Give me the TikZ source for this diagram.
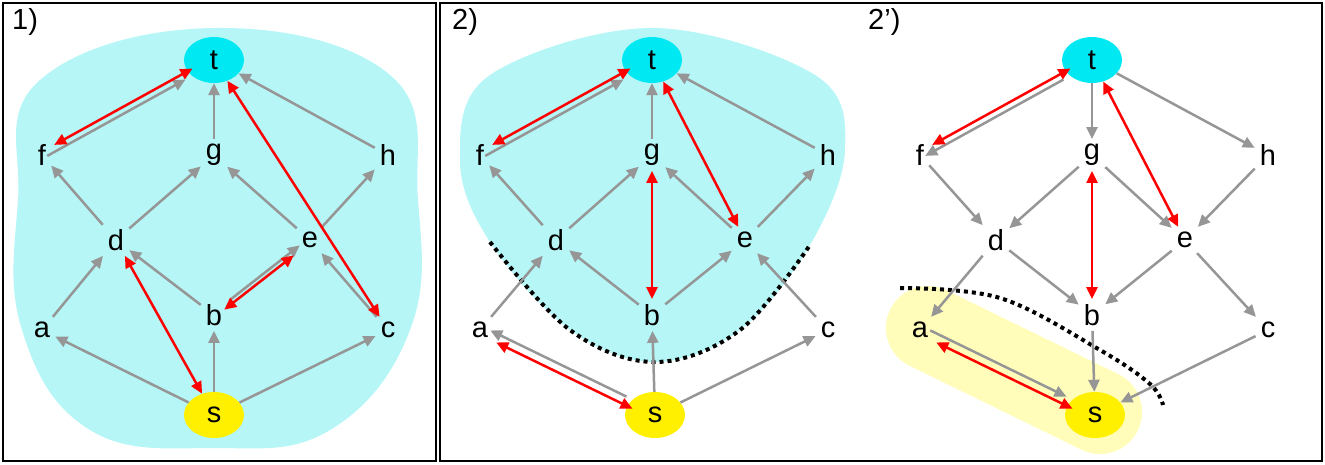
\documentclass[tikz,border=0pt]{standalone}
\usepackage{fontspec}
\setmainfont{Liberation Sans}
\usetikzlibrary{arrows.meta,shapes.geometric}
\definecolor{blob}{RGB}{182,246,246}
\definecolor{tcol}{RGB}{0,232,242}
\definecolor{scol}{RGB}{255,240,0}
\definecolor{ylight}{RGB}{255,253,185}
\definecolor{garr}{RGB}{150,150,150}
\begin{document}
\begin{tikzpicture}[x=1pt,y=-1pt,
 lab/.style={font=\fontsize{29}{31}\selectfont, inner sep=5pt},
 tn/.style={ellipse, fill=tcol, minimum width=60pt, minimum height=46pt, font=\fontsize{29}{31}\selectfont, inner sep=0pt},
 sn/.style={ellipse, fill=scol, minimum width=60pt, minimum height=46pt, font=\fontsize{29}{31}\selectfont, inner sep=0pt},
 ga/.style={draw=garr, line width=2.5pt, -{Triangle[length=12pt,width=11pt]}},
 ra/.style={draw=red, line width=2.5pt, {Triangle[length=12pt,width=11pt]}-{Triangle[length=12pt,width=11pt]}},
 dl/.style={line width=4pt, dash pattern=on 4pt off 4pt}]
\useasboundingbox (0,0) rectangle (1325,464);
\draw[line width=1.5pt] (3,3) rectangle (436,461);
\draw[line width=1.5pt] (440,3) rectangle (1322,461);
\node[lab,anchor=north west,inner sep=0pt] (l1) at (12,8) {1)};
\node[lab,anchor=north west,inner sep=0pt] (l2) at (452,8) {2)};
\node[lab,anchor=north west,inner sep=0pt] (l3) at (868,8) {2')};
% blobs
\fill[blob] plot[smooth cycle, tension=0.7] coordinates {(214,28) (390,75) (418,200) (410,330) (330,430) (214,448) (90,430) (22,330) (18,200) (40,80)};
\fill[blob] plot[smooth cycle, tension=0.6] coordinates {(652,28) (815,75) (845,150) (810,245) (740,330) (655,362) (570,330) (490,242) (460,160) (490,75)};
\draw[dl] plot[smooth, tension=0.6] coordinates {(490,242) (570,330) (655,362) (740,330) (810,245)};
\draw[ylight, line width=84pt, line cap=round] (928,328) -- (1100,412);
\draw[dl] plot[smooth, tension=0.6] coordinates {(900,288) (1000,298) (1100,350) (1150,384) (1163,405)};
% panel 1
\node[tn] (t1) at (214,60) {t};
\node[sn] (s1) at (214,415) {s};
\node[lab] (f1) at (42,155) {f};
\node[lab] (g1) at (214,155) {g};
\node[lab] (h1) at (388,155) {h};
\node[lab] (d1) at (116,240) {d};
\node[lab] (e1) at (310,240) {e};
\node[lab] (a1) at (42,330) {a};
\node[lab] (b1) at (214,315) {b};
\node[lab] (c1) at (388,330) {c};
\draw[ga,transform canvas={xshift=-4pt,yshift=-6pt}] (f1) -- (t1);
\draw[ra,transform canvas={xshift=3pt,yshift=5pt}] (f1) -- (t1);
\draw[ga] (g1) -- (t1); \draw[ga] (h1) -- (t1);
\draw[ga] (d1) -- (f1); \draw[ga] (d1) -- (g1); \draw[ga] (e1) -- (g1); \draw[ga] (e1) -- (h1);
\draw[ga] (a1) -- (d1); \draw[ga] (b1) -- (d1); \draw[ga] (c1) -- (e1);
\draw[ga,transform canvas={xshift=3pt,yshift=5pt}] (b1) -- (e1);
\draw[ra,transform canvas={xshift=-3pt,yshift=-5pt}] (b1) -- (e1);
\draw[ga] (s1) -- (a1); \draw[ga] (s1) -- (b1); \draw[ga] (s1) -- (c1);
\draw[ra] (s1) -- (d1); \draw[ra] (c1) -- (t1);
% panel 2
\node[tn] (t2) at (652,60) {t};
\node[sn] (s2) at (655,415) {s};
\node[lab] (f2) at (480,155) {f};
\node[lab] (g2) at (652,155) {g};
\node[lab] (h2) at (828,155) {h};
\node[lab] (d2) at (556,240) {d};
\node[lab] (e2) at (745,240) {e};
\node[lab] (a2) at (480,330) {a};
\node[lab] (b2) at (652,315) {b};
\node[lab] (c2) at (828,330) {c};
\draw[ga,transform canvas={xshift=-4pt,yshift=-6pt}] (f2) -- (t2);
\draw[ra,transform canvas={xshift=3pt,yshift=5pt}] (f2) -- (t2);
\draw[ga] (g2) -- (t2); \draw[ga] (h2) -- (t2);
\draw[ga] (d2) -- (f2); \draw[ga] (d2) -- (g2); \draw[ga] (e2) -- (g2); \draw[ga] (e2) -- (h2);
\draw[ga] (a2) -- (d2); \draw[ga] (b2) -- (d2); \draw[ga] (b2) -- (e2); \draw[ga] (c2) -- (e2);
\draw[ga,transform canvas={xshift=-3pt,yshift=6pt}] (s2) -- (a2);
\draw[ra,transform canvas={xshift=3pt,yshift=-6pt}] (s2) -- (a2);
\draw[ga] (s2) -- (b2); \draw[ga] (s2) -- (c2);
\draw[ra] (t2) -- (e2); \draw[ra] (g2) -- (b2);
% panel 2'
\node[tn] (t3) at (1092,60) {t};
\node[sn] (s3) at (1095,415) {s};
\node[lab] (f3) at (920,155) {f};
\node[lab] (g3) at (1092,155) {g};
\node[lab] (h3) at (1268,155) {h};
\node[lab] (d3) at (996,240) {d};
\node[lab] (e3) at (1185,240) {e};
\node[lab] (a3) at (920,330) {a};
\node[lab] (b3) at (1092,315) {b};
\node[lab] (c3) at (1268,330) {c};
\draw[ga,transform canvas={xshift=-4pt,yshift=-6pt}] (t3) -- (f3);
\draw[ra,transform canvas={xshift=3pt,yshift=5pt}] (f3) -- (t3);
\draw[ga] (t3) -- (g3); \draw[ga] (t3) -- (h3);
\draw[ga] (f3) -- (d3); \draw[ga] (g3) -- (d3); \draw[ga] (g3) -- (e3); \draw[ga] (h3) -- (e3);
\draw[ga] (d3) -- (a3); \draw[ga] (d3) -- (b3); \draw[ga] (e3) -- (b3); \draw[ga] (e3) -- (c3);
\draw[ga,transform canvas={xshift=-3pt,yshift=6pt}] (a3) -- (s3);
\draw[ra,transform canvas={xshift=3pt,yshift=-6pt}] (s3) -- (a3);
\draw[ga] (b3) -- (s3); \draw[ga] (c3) -- (s3);
\draw[ra] (t3) -- (e3); \draw[ra] (g3) -- (b3);
\end{tikzpicture}
\end{document}
